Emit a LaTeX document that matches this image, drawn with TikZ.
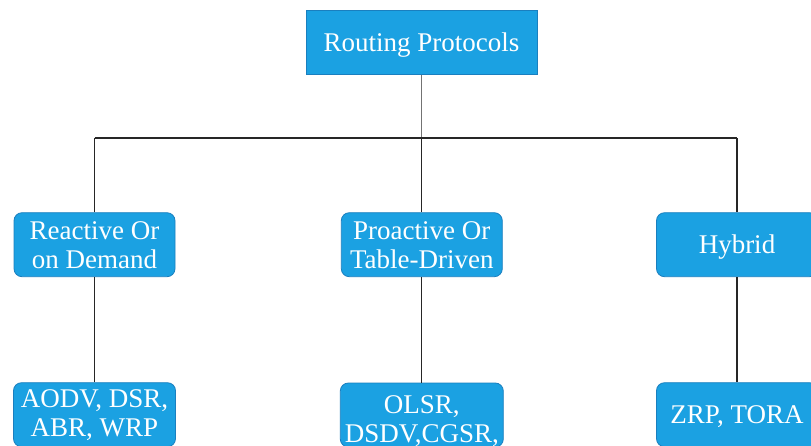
\documentclass[tikz,border=0pt]{standalone}
\usepackage{fontspec}
\setmainfont{Liberation Serif}
\definecolor{boxfill}{HTML}{1BA1E2}
\definecolor{boxline}{HTML}{1A7FBF}
% one line of box text, set on the cap height
\newcommand{\onerow}[1]{\raisebox{0pt}[18pt][0pt]{#1}}
% two lines of box text; the optional depth moves the pair up or down
\newcommand{\tworows}[3][29pt]{\raisebox{0pt}[18pt][#1]{\begin{tabular}[t]{@{}c@{}}#2\\#3\end{tabular}}}
\begin{document}
\begin{tikzpicture}[x=1pt,y=-1pt,
  box/.style={draw=boxline, fill=boxfill, line width=0.8pt, text=white,
    inner sep=0pt, minimum width=161pt, minimum height=64pt,
    rounded corners=8pt, font=\fontsize{27}{29}\selectfont},
  rootbox/.style={box, rounded corners=0pt, minimum width=231pt},
  link/.style={draw=black!85, line width=1.1pt},
  stub/.style={draw=black!55, line width=1.6pt}]
\useasboundingbox (0,0) rectangle (811,445);
\clip (0,0) rectangle (811,445);

\node[rootbox] (root) at (421.4,42.2) {\onerow{Routing Protocols}};

\node[box] (rea) at (94.5,244.7) {\tworows{Reactive Or}{on Demand}};
\node[box] (pro) at (421.8,244.7) {\tworows{Proactive Or}{Table-Driven}};
\node[box] (hyb) at (737,244.7) {\onerow{Hybrid}};

\node[box, minimum width=162pt] (reaL) at (94.5,414.7) {\tworows[32pt]{AODV, DSR,}{ABR, WRP}};
\node[box, minimum width=163pt] (proL) at (421.8,415) {\tworows[22pt]{OLSR,}{DSDV,CGSR,}};
\node[box] (hybL) at (737,414.7) {\onerow{ZRP, TORA}};

% horizontal bus level
\coordinate (bus) at (0,138);

\draw[stub] (root.south) -- (root.south |- bus);
\draw[link] (rea |- bus) -- (hyb |- bus);
\draw[link] (rea |- bus) -- (rea.north);
\draw[link] (pro |- bus) -- (pro.north);
\draw[link] (hyb |- bus) -- (hyb.north);
\draw[link] (rea.south) -- (reaL.north);
\draw[link] (pro.south) -- (proL.north);
\draw[link] (hyb.south) -- (hybL.north);
\end{tikzpicture}
\end{document}
